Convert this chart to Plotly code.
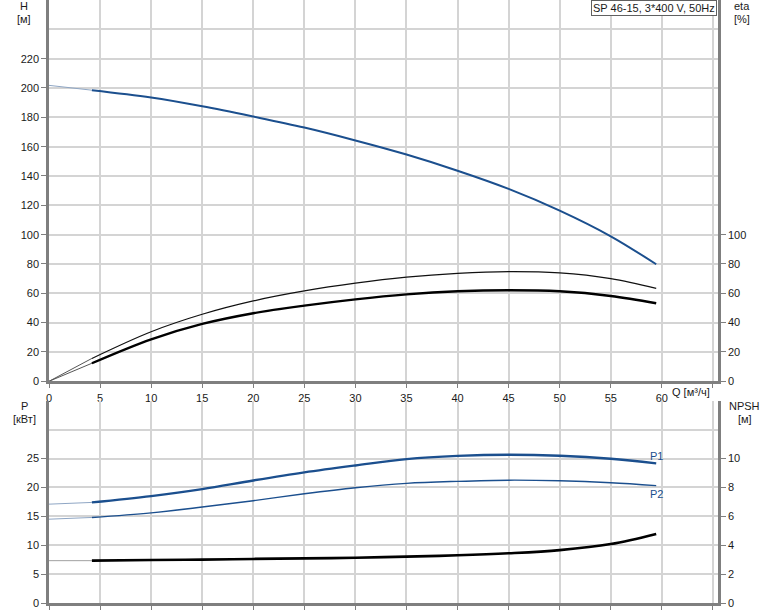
import plotly.graph_objects as go

# ---- data ----
q = [0, 4.2, 10, 15, 20, 25, 30, 35, 40, 45, 50, 55, 59.45]
head = [201.8, 198.5, 193.5, 187.5, 180.5, 173.0, 164.2, 154.6, 143.6, 131.2, 116.4, 98.9, 79.8]
eta_pump = [0, 15.6, 33.8, 45.7, 54.8, 61.6, 66.9, 71.0, 73.6, 74.8, 73.9, 70.0, 63.4]
eta_total = [0, 12.3, 28.6, 39.1, 46.4, 51.6, 55.9, 59.3, 61.4, 62.1, 61.4, 58.2, 53.2]
p1 = [17.1, 17.4, 18.5, 19.7, 21.2, 22.6, 23.8, 24.9, 25.45, 25.65, 25.47, 24.95, 24.15]
p2 = [14.5, 14.8, 15.6, 16.6, 17.7, 18.9, 19.95, 20.7, 21.05, 21.25, 21.14, 20.8, 20.3]
npsh = [2.93, 2.93, 2.98, 3.0, 3.05, 3.09, 3.13, 3.21, 3.30, 3.44, 3.66, 4.08, 4.78]

q_ticks = [0, 5, 10, 15, 20, 25, 30, 35, 40, 45, 50, 55, 60, 65]
q_ticktext = ["0", "5", "10", "15", "20", "25", "30", "35", "40", "45", "50", "55", "60", ""]
h_ticks = [0, 20, 40, 60, 80, 100, 120, 140, 160, 180, 200, 220]
eta_ticks = [0, 20, 40, 60, 80, 100]
p_ticks = [0, 5, 10, 15, 20, 25]
npsh_ticks = [0, 2, 4, 6, 8, 10]
title_text = "SP 46-15, 3*400 V, 50Hz"

# ---- layout geometry (pixels) ----
W, H = 774, 611
ML, MR, MT, MB = 49, 56, 0, 8
PW = W - ML - MR
PH = H - MT - MB

def px(x):
    return (x - ML) / PW

def py(y):
    return (H - MB - y) / PH

BLUE = "#1b4f8e"
BLUE_THIN = "#8fa6c4"
GRAY_THIN = "#a0a0a0"
FONT = "Liberation Sans, Arial, sans-serif"

fig = go.Figure()

def add_curve(yvals, xa, ya, color, width, thin_color):
    # extrapolated thin start segment
    fig.add_trace(go.Scatter(x=q[:2], y=yvals[:2], xaxis=xa, yaxis=ya, mode="lines",
                             line=dict(color=thin_color, width=1), hoverinfo="skip"))
    fig.add_trace(go.Scatter(x=q[1:], y=yvals[1:], xaxis=xa, yaxis=ya, mode="lines",
                             line=dict(color=color, width=width, shape="spline", smoothing=1.0),
                             hoverinfo="skip"))

add_curve(head, "x", "y", BLUE, 2, BLUE_THIN)
add_curve(eta_pump, "x", "y2", "#111111", 1.2, "#555555")
add_curve(eta_total, "x", "y2", "#000000", 2.4, "#555555")
add_curve(p1, "x2", "y3", BLUE, 2.4, BLUE_THIN)
add_curve(p2, "x2", "y3", BLUE, 1.4, BLUE_THIN)
add_curve(npsh, "x2", "y4", "#000000", 2.6, GRAY_THIN)

grid = "#d4d4d4"
axis_line = "#7f7f7f"
tickfont = dict(family=FONT, size=11, color="#1a1a1a")

xcommon = dict(range=[0, 65.5], tickvals=q_ticks, showgrid=True, gridcolor=grid, gridwidth=1.5,
               zeroline=False, showline=True, linecolor=axis_line, linewidth=3,
               ticks="outside", ticklen=4, tickcolor=axis_line, tickfont=tickfont)

fig.update_layout(
    width=W, height=H,
    margin=dict(l=ML, r=MR, t=MT, b=MB),
    paper_bgcolor="white", plot_bgcolor="white",
    showlegend=False,
    font=dict(family=FONT, size=11, color="#1a1a1a"),
    xaxis=dict(**xcommon, anchor="y", ticktext=q_ticktext),
    xaxis2=dict(**xcommon, anchor="y3", matches="x", showticklabels=False),
    yaxis=dict(domain=[py(381.3), 1], range=[0, 260], tickvals=h_ticks,
               showgrid=True, gridcolor=grid, gridwidth=1.5, zeroline=False,
               showline=True, linecolor=axis_line, linewidth=2.5,
               ticks="outside", ticklen=5, tickcolor=axis_line, tickfont=tickfont,
               minor=dict(tickvals=[240], showgrid=True, gridcolor=grid, gridwidth=1.5, ticks="")),
    yaxis2=dict(overlaying="y", side="right", anchor="x", range=[0, 260], tickvals=eta_ticks,
                showgrid=False, zeroline=False, showline=True, linecolor=axis_line, linewidth=2.5,
                ticks="outside", ticklen=5, tickcolor=axis_line, tickfont=tickfont),
    yaxis3=dict(domain=[0, py(400.7)], range=[0, 35], tickvals=p_ticks, anchor="x2",
                showgrid=True, gridcolor=grid, gridwidth=1.5, zeroline=False,
                showline=True, linecolor=axis_line, linewidth=2.5,
                ticks="outside", ticklen=5, tickcolor=axis_line, tickfont=tickfont,
                minor=dict(tickvals=[30], showgrid=True, gridcolor=grid, gridwidth=1.5, ticks="")),
    yaxis4=dict(overlaying="y3", side="right", anchor="x2", range=[0, 14], tickvals=npsh_ticks,
                showgrid=False, zeroline=False, showline=True, linecolor=axis_line, linewidth=2.5,
                ticks="outside", ticklen=5, tickcolor=axis_line, tickfont=tickfont),
)

def label(text, x, y, xanchor="center", yanchor="middle", **kw):
    fig.add_annotation(text=text, x=px(x), y=py(y), xref="paper", yref="paper",
                       xanchor=xanchor, yanchor=yanchor, showarrow=False,
                       font=dict(family=FONT, size=11, color="#1a1a1a"), **kw)

label("H", 24, 6)
label("[м]", 24, 19)
label("eta", 742, 6)
label("[%]", 742, 19)
label("P", 24, 406)
label("[кВт]", 24, 419)
label("NPSH", 745, 406)
label("[м]", 745, 419)
label("Q [м³/ч]", 712, 392, xanchor="right")

fig.add_annotation(text=title_text, x=px(717), y=py(0), xref="paper", yref="paper",
                   xanchor="right", yanchor="top", showarrow=False,
                   font=dict(family=FONT, size=11, color="#1a1a1a"),
                   bgcolor="white", bordercolor="#606060", borderwidth=1, borderpad=1)

fig.add_annotation(text="P1", x=q[-1], y=p1[-1] + 1.3, xref="x2", yref="y3", showarrow=False,
                   xanchor="center", yanchor="middle", font=dict(family=FONT, size=11, color=BLUE))
fig.add_annotation(text="P2", x=q[-1], y=p2[-1] - 1.5, xref="x2", yref="y3", showarrow=False,
                   xanchor="center", yanchor="middle", font=dict(family=FONT, size=11, color=BLUE))

fig.write_html("out.html", config={"displayModeBar": False},
               post_script="document.body.style.margin='0';")
